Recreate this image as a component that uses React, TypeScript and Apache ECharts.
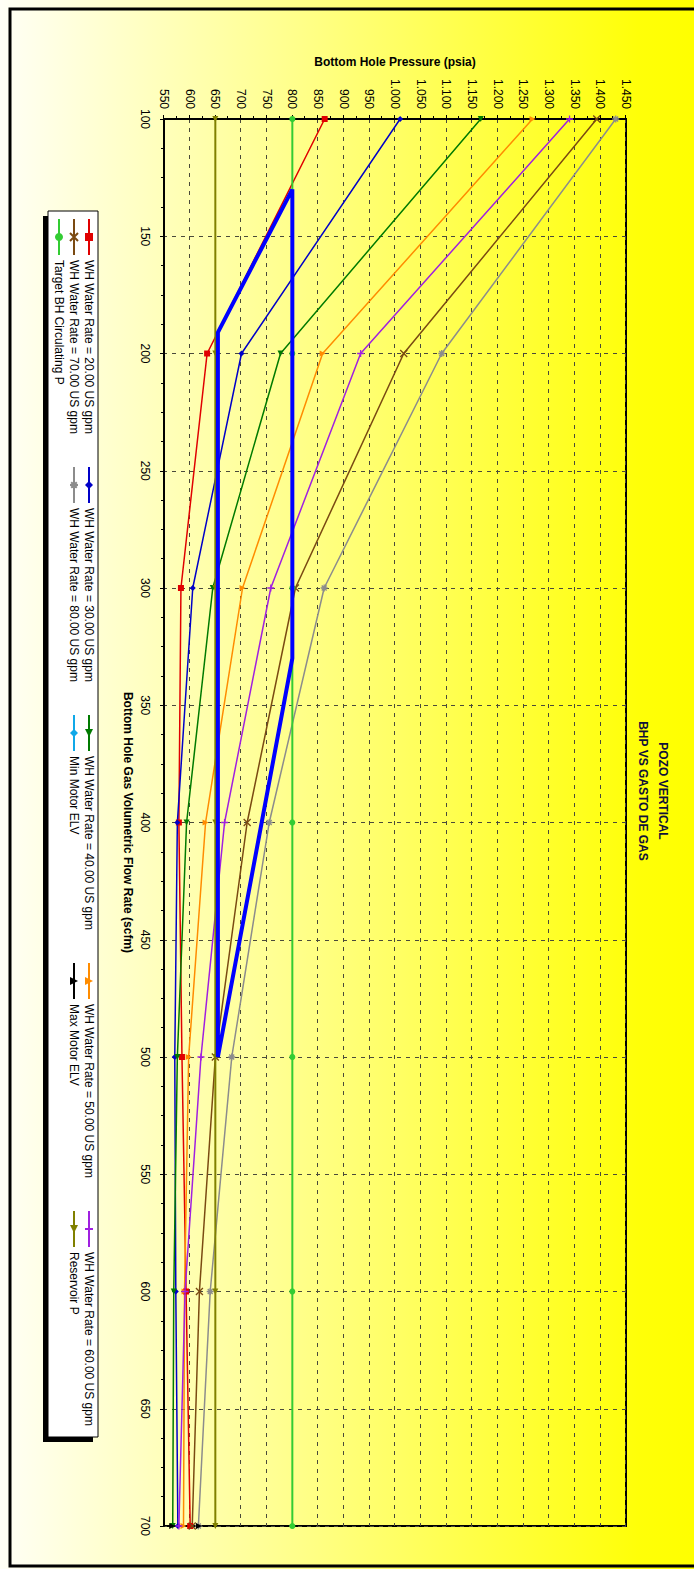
import React, { useEffect, useRef } from "react";
import * as echarts from "echarts";

// Gas flow rates (scfm) at which each water-rate curve was computed
const flowRates = [100, 200, 300, 400, 500, 600, 700];

// Bottom hole pressure (psia) for each wellhead water rate
const wr20 = [863, 634, 583, 579, 585, 593, 601];
const wr30 = [1010, 701, 606, 576, 571, 573, 577];
const wr40 = [1167, 777, 645, 594, 576, 569, 567];
const wr50 = [1268, 859, 703, 631, 598, 590, 588];
const wr60 = [1340, 933, 758, 668, 622, 591, 579];
const wr70 = [1393, 1017, 806, 712, 650, 619, 605];
const wr80 = [1430, 1091, 862, 755, 682, 640, 617];

const reservoirP = [650, 650, 650, 650, 650, 650, 650];
const targetP = [800, 800, 800, 800, 800, 800, 800];

const maxMotorFlow = [700, 700];
const maxMotorP = [566, 618];

// Operating window outline
const envelopeFlow = [130, 191, 500, 330, 130];
const envelopeP = [800, 655, 655, 800, 800];

const xTitle = "Bottom Hole Gas Volumetric Flow Rate (scfm)";
const yTitle = "Bottom Hole Pressure (psia)";
const titleLines = ["POZO VERTICAL", "BHP VS GASTO DE GAS"];

const FONT = "Arial, 'Liberation Sans', sans-serif";

const PLUS = "path://M0,5L10,5M5,0L5,10";
const CROSS = "path://M0,0L10,10M10,0L0,10";
const STAR = "path://M0,5L10,5M5,0L5,10M1.5,1.5L8.5,8.5M8.5,1.5L1.5,8.5";

const pair = (xs: number[], ys: number[]) => xs.map((x, i) => [x, ys[i]]);

type Def = {
  name: string;
  color: string;
  symbol: string;
  rotate?: number;
  stroke?: boolean;
  data: number[][];
  width?: number;
};

const defs: Def[] = [
  { name: "WH Water Rate = 20.00 US gpm", color: "#e00000", symbol: "rect", data: pair(flowRates, wr20) },
  { name: "WH Water Rate = 30.00 US gpm", color: "#0000c8", symbol: "diamond", data: pair(flowRates, wr30) },
  { name: "WH Water Rate = 40.00 US gpm", color: "#007a00", symbol: "triangle", rotate: -90, data: pair(flowRates, wr40) },
  { name: "WH Water Rate = 50.00 US gpm", color: "#ff8c00", symbol: "triangle", data: pair(flowRates, wr50) },
  { name: "WH Water Rate = 60.00 US gpm", color: "#a020e0", symbol: PLUS, stroke: true, data: pair(flowRates, wr60) },
  { name: "WH Water Rate = 70.00 US gpm", color: "#7a4a12", symbol: CROSS, stroke: true, data: pair(flowRates, wr70) },
  { name: "WH Water Rate = 80.00 US gpm", color: "#8c8c8c", symbol: STAR, stroke: true, data: pair(flowRates, wr80) },
  { name: "Min Motor ELV", color: "#10a8e8", symbol: "diamond", data: [] },
  { name: "Max Motor ELV", color: "#000000", symbol: "triangle", data: pair(maxMotorFlow, maxMotorP) },
  { name: "Reservoir P", color: "#808000", symbol: "triangle", rotate: -90, data: pair(flowRates, reservoirP), width: 2 },
  { name: "Target BH Circulating P", color: "#33cc33", symbol: "circle", data: pair(flowRates, targetP), width: 2 },
];

// Legend grid: five columns, three rows
const legendCols = [218, 466, 714, 962, 1210];
const legendRowTops = [599, 614, 629];

const fmtPressure = (v: number) =>
  v >= 1000 ? `${Math.floor(v / 1000)}.${String(v % 1000).padStart(3, "0")}` : String(v);

export default function App() {
  const ref = useRef<HTMLDivElement>(null);

  useEffect(() => {
    if (!ref.current) return;
    const chart = echarts.init(ref.current, undefined, { renderer: "svg" });

    const series: any[] = defs.map((d) => ({
      name: d.name,
      type: "line",
      data: d.data,
      symbol: d.symbol,
      symbolSize: d.stroke ? 7 : 6,
      symbolRotate: d.rotate ?? 0,
      lineStyle: { color: d.color, width: d.width ?? 1.5 },
      itemStyle: d.stroke
        ? { color: d.color, borderColor: d.color, borderWidth: 1.3 }
        : { color: d.color, borderWidth: 0 },
      z: 3,
    }));

    series.push({
      name: "envelope",
      type: "line",
      data: pair(envelopeFlow, envelopeP),
      symbol: "none",
      lineStyle: { color: "#0000ff", width: 4 },
      z: 4,
    });

    const legends = defs.map((d, i) => ({
      orient: "horizontal",
      left: legendCols[i % 5],
      top: legendRowTops[Math.floor(i / 5)],
      itemWidth: 36,
      itemHeight: 10,
      padding: 0,
      selectedMode: false,
      z: 10,
      textStyle: { fontSize: 12, color: "#000", fontFamily: FONT },
      data: [d.name],
    }));

    chart.setOption({
      animation: false,
      backgroundColor: "transparent",
      textStyle: { fontFamily: FONT },
      title: {
        text: titleLines.join("\n"),
        left: 791,
        top: 21,
        padding: 0,
        textAlign: "center",
        textStyle: {
          fontSize: 12,
          fontWeight: "bold",
          color: "#10103a",
          fontFamily: FONT,
          lineHeight: 20,
        },
      },
      graphic: [
        {
          type: "rect",
          z: 0,
          shape: { x: 9, y: -10, width: 1557, height: 694 },
          style: { fill: "none", stroke: "#000", lineWidth: 3 },
        },
        {
          type: "rect",
          z: 1,
          shape: { x: 216, y: 601, width: 1226, height: 50 },
          style: { fill: "#000" },
        },
        {
          type: "rect",
          z: 2,
          shape: { x: 211, y: 596, width: 1226, height: 50 },
          style: { fill: "#fff", stroke: "#000", lineWidth: 1 },
        },
      ],
      legend: legends,
      grid: {
        left: 119,
        right: 43,
        top: 68,
        bottom: 164,
        show: true,
        borderColor: "#000",
        borderWidth: 2,
        backgroundColor: "transparent",
      },
      xAxis: {
        type: "value",
        min: 100,
        max: 700,
        interval: 50,
        name: xTitle,
        nameLocation: "middle",
        nameGap: 27,
        nameTextStyle: { fontWeight: "bold", fontSize: 12, color: "#000", fontFamily: FONT },
        axisLine: { show: true, onZero: false, lineStyle: { color: "#000", width: 2 } },
        axisTick: { show: true, length: 4, lineStyle: { color: "#000" } },
        minorTick: { show: true, splitNumber: 4, length: 3, lineStyle: { color: "#000" } },
        axisLabel: { margin: 13, fontSize: 12, color: "#000", fontFamily: FONT },
        splitLine: { show: true, lineStyle: { color: "#4a4a3a", type: [4, 5], width: 1 } },
      },
      yAxis: {
        type: "value",
        min: 550,
        max: 1450,
        interval: 50,
        name: yTitle,
        nameLocation: "middle",
        nameRotate: 90,
        nameGap: 47,
        nameTextStyle: { fontWeight: "bold", fontSize: 12, color: "#000", fontFamily: FONT },
        axisLine: { show: true, onZero: false, lineStyle: { color: "#000", width: 2 } },
        axisTick: { show: true, length: 4, lineStyle: { color: "#000" } },
        minorTick: { show: true, splitNumber: 2, length: 3, lineStyle: { color: "#000" } },
        axisLabel: { margin: 10, fontSize: 12, color: "#000", fontFamily: FONT, formatter: fmtPressure },
        splitLine: { show: true, lineStyle: { color: "#4a4a3a", type: [4, 5], width: 1 } },
      },
      series,
    });

    return () => chart.dispose();
  }, []);

  return (
    <div
      style={{
        position: "absolute",
        left: 0,
        top: 0,
        width: 694,
        height: 1569,
        overflow: "hidden",
        background: "#fff",
      }}
    >
      <div
        ref={ref}
        style={{
          position: "absolute",
          left: 0,
          top: 0,
          width: 1569,
          height: 694,
          transformOrigin: "0 0",
          transform: "translate(694px, 0) rotate(90deg)",
          background:
            "linear-gradient(to bottom, #ffff00 0%, #ffff08 8%, #ffff8a 57%, #fffff6 100%)",
        }}
      />
    </div>
  );
}
